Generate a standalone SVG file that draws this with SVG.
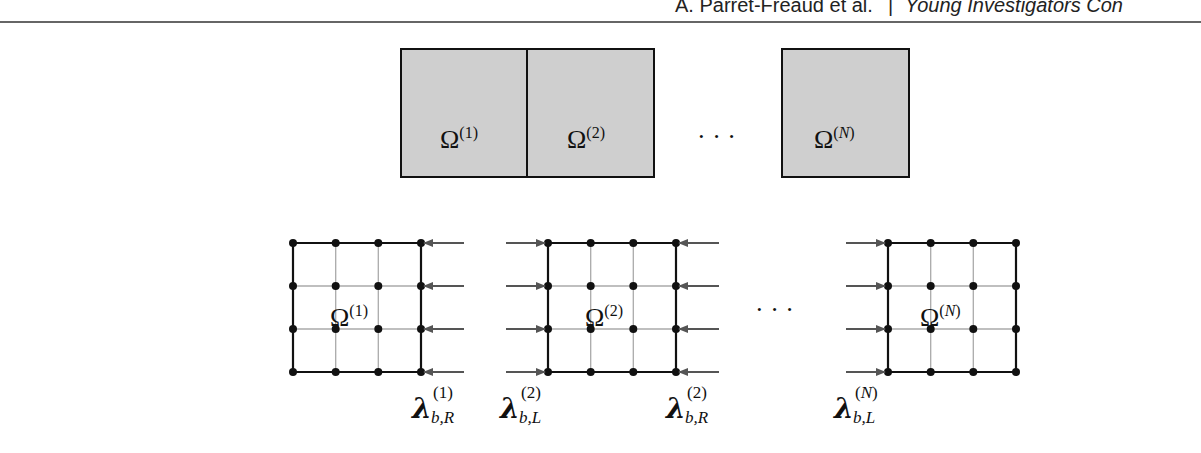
<svg xmlns="http://www.w3.org/2000/svg" width="1201" height="453" viewBox="0 0 1201 453">
<style>
.h{font-family:"Liberation Sans",Arial,sans-serif;font-size:20px;fill:#222}
.m{font-family:"Liberation Serif","DejaVu Serif",serif;font-size:26px;fill:#111}
.s{font-size:16px}
.L{font-family:"DejaVu Serif","Liberation Serif",serif;font-size:28px;font-weight:bold;font-style:italic;fill:#111}
.sub{font-family:"Liberation Serif",serif;font-size:17px;font-style:italic;fill:#111}
.sup{font-family:"Liberation Serif",serif;font-size:17px;fill:#111}
.b{fill:#cfcfcf;stroke:#111;stroke-width:2}
.g{stroke:#aaa;stroke-width:1.3;fill:none}
.k{stroke:#111;stroke-width:2.2;fill:none}
.a line{stroke:#555;stroke-width:2;marker-end:url(#ar)}
</style>
<defs>
<marker id="ar" viewBox="0 0 10 10" refX="9" refY="5" markerWidth="6" markerHeight="5" orient="auto" markerUnits="strokeWidth"><path d="M0,1 L10,5 L0,9 Z" fill="#555"/></marker>
<g id="grid">
<path class="g" d="M42.7,0V129M85.3,0V129M0,43H128M0,86H128"/>
<path class="k" d="M0,0H128M0,129H128"/>
<g fill="#111">
<circle cx="0" cy="0" r="4"/><circle cx="42.7" cy="0" r="4"/><circle cx="85.3" cy="0" r="4"/><circle cx="128" cy="0" r="4"/>
<circle cx="0" cy="43" r="4"/><circle cx="42.7" cy="43" r="4"/><circle cx="85.3" cy="43" r="4"/><circle cx="128" cy="43" r="4"/>
<circle cx="0" cy="86" r="4"/><circle cx="42.7" cy="86" r="4"/><circle cx="85.3" cy="86" r="4"/><circle cx="128" cy="86" r="4"/>
<circle cx="0" cy="129" r="4"/><circle cx="42.7" cy="129" r="4"/><circle cx="85.3" cy="129" r="4"/><circle cx="128" cy="129" r="4"/>
</g>
</g>
</defs>
<text class="h" x="675" y="12">A. Parret-Fréaud et al.</text>
<text class="h" x="888" y="12">|</text>
<text class="h" x="905" y="12" font-style="italic">Young Investigators Con</text>
<line x1="0" y1="22" x2="1201" y2="22" stroke="#666" stroke-width="2"/>

<g id="box1"><rect class="b" x="401" y="49" width="126" height="128"/><text class="m" x="440" y="148">Ω<tspan class="s" dy="-10">(1)</tspan></text></g>
<g id="box2"><rect class="b" x="527" y="49" width="127" height="128"/><text class="m" x="567" y="148">Ω<tspan class="s" dy="-10">(2)</tspan></text></g>
<text class="m" x="697" y="145">· · ·</text>
<g id="boxN"><rect class="b" x="782" y="49" width="127" height="128"/><text class="m" x="814" y="148">Ω<tspan class="s" dy="-10">(<tspan font-style="italic">N</tspan>)</tspan></text></g>

<g id="sub1"><use href="#grid" x="293" y="243"/><path class="k" d="M293,243V372M421,243V372"/><text class="m" x="330" y="326">Ω<tspan class="s" dy="-10">(1)</tspan></text></g>
<g id="sub2"><use href="#grid" x="548" y="243"/><path class="k" d="M548,243V372M676,243V372"/><text class="m" x="585" y="326">Ω<tspan class="s" dy="-10">(2)</tspan></text></g>
<text class="m" x="755" y="318">· · ·</text>
<g id="subN"><use href="#grid" x="888" y="243"/><path class="k" d="M888,243V372M1016,243V372"/><text class="m" x="920" y="326">Ω<tspan class="s" dy="-10">(<tspan font-style="italic">N</tspan>)</tspan></text></g>

<g id="connectors" class="a">
<line x1="464" y1="243" x2="424" y2="243"/><line x1="464" y1="286" x2="424" y2="286"/><line x1="464" y1="329" x2="424" y2="329"/><line x1="464" y1="372" x2="424" y2="372"/>
<line x1="506" y1="243" x2="545" y2="243"/><line x1="506" y1="286" x2="545" y2="286"/><line x1="506" y1="329" x2="545" y2="329"/><line x1="506" y1="372" x2="545" y2="372"/>
<line x1="719" y1="243" x2="679" y2="243"/><line x1="719" y1="286" x2="679" y2="286"/><line x1="719" y1="329" x2="679" y2="329"/><line x1="719" y1="372" x2="679" y2="372"/>
<line x1="846" y1="243" x2="885" y2="243"/><line x1="846" y1="286" x2="885" y2="286"/><line x1="846" y1="329" x2="885" y2="329"/><line x1="846" y1="372" x2="885" y2="372"/>
</g>

<text class="L" x="412" y="418">λ</text><text class="L" x="500" y="418">λ</text><text class="L" x="666" y="418">λ</text><text class="L" x="834" y="418">λ</text>
<text class="sub" x="431" y="423">b,R</text><text class="sub" x="519" y="423">b,L</text><text class="sub" x="685" y="423">b,R</text><text class="sub" x="853" y="423">b,L</text>
<text class="sup" x="433" y="398">(1)</text><text class="sup" x="521" y="398">(2)</text><text class="sup" x="687" y="398">(2)</text><text class="sup" x="855" y="398">(<tspan font-style="italic">N</tspan>)</text>
</svg>
